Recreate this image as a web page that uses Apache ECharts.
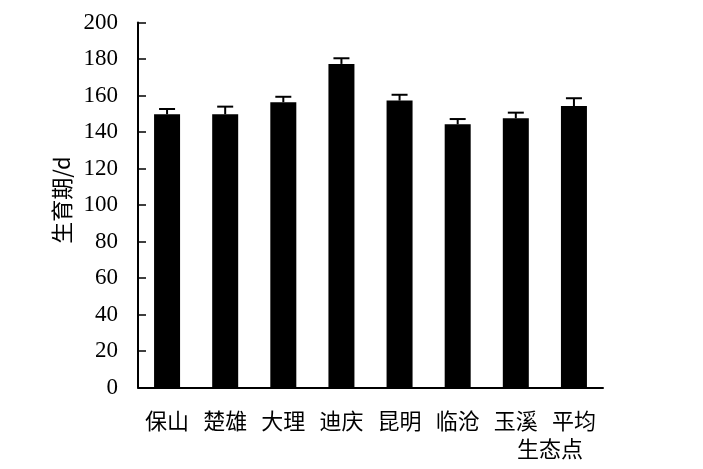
<!DOCTYPE html>
<html>
<head>
<meta charset="utf-8">
<script src="https://cdn.jsdelivr.net/npm/echarts@6/dist/echarts.min.js"></script>
<style>html,body{margin:0;padding:0;background:#fff}#c{width:703px;height:469px}</style>
</head>
<body>
<div id="c"></div>
<script>
const categories = ['保山', '楚雄', '大理', '迪庆', '昆明', '临沧', '玉溪', '平均生态点'];
const values = [149.7, 149.7, 156.3, 177.3, 157.2, 144.2, 147.5, 154.2];
const errors = [2.9, 4.2, 3.0, 3.1, 3.2, 2.9, 3.1, 4.3];
const yTicks = [0, 20, 40, 60, 80, 100, 120, 140, 160, 180, 200];

const chart = echarts.init(document.getElementById('c'));
const serif = "'Times New Roman','Liberation Serif',serif";
const cjk = "'Noto Sans CJK SC','Liberation Serif',serif";
chart.setOption({
  animation: false,
  grid: {left: 138, right: 100, top: 22.5, bottom: 81.5},
  xAxis: {
    type: 'category',
    data: categories,
    axisLine: {lineStyle: {color: '#000', width: 2}},
    axisTick: {inside: true, length: 6, lineStyle: {color: '#000', width: 1.5}},
    axisLabel: {
      color: '#000', fontFamily: cjk, fontSize: 22, margin: 19, interval: 0,
      lineHeight: 28,
      formatter: function (v) {
        if (v === '平均生态点') return '{a|平均}\n{b|生态点}';
        return v;
      },
      rich: {
        a: {fontFamily: cjk, fontSize: 22, color: '#000', lineHeight: 28},
        b: {fontFamily: cjk, fontSize: 22, color: '#000', lineHeight: 28, padding: [0, 48, 0, 0]}
      }
    }
  },
  yAxis: {
    type: 'value', min: yTicks[0], max: yTicks[yTicks.length - 1], interval: 20,
    name: '生育期/d', nameLocation: 'middle', nameGap: 64, nameRotate: 90,
    nameTextStyle: {color: '#000', fontFamily: cjk, fontSize: 22, padding: [0, 0, 0, 10]},
    axisLine: {show: true, lineStyle: {color: '#000', width: 2}},
    axisTick: {show: true, inside: true, length: 8, lineStyle: {color: '#000', width: 1.5}},
    splitLine: {show: false},
    axisLabel: {color: '#000', fontFamily: serif, fontSize: 23, margin: 20}
  },
  series: [
    {
      type: 'bar', data: values, barWidth: 26,
      itemStyle: {color: '#000'}
    },
    {
      type: 'custom',
      data: values.map((v, i) => [i, v, errors[i]]),
      renderItem: function (params, api) {
        const x = api.coord([api.value(0), api.value(1)])[0];
        const y0 = api.coord([api.value(0), api.value(1)])[1];
        const y1 = api.coord([api.value(0), api.value(1) + api.value(2)])[1];
        const hw = 8;
        const style = {stroke: '#000', lineWidth: 2, fill: null};
        return {
          type: 'group',
          children: [
            {type: 'line', shape: {x1: x, y1: y0, x2: x, y2: y1}, style: style},
            {type: 'line', shape: {x1: x - hw, y1: y1, x2: x + hw, y2: y1}, style: style}
          ]
        };
      },
      z: 3
    }
  ]
});
</script>
</body>
</html>
